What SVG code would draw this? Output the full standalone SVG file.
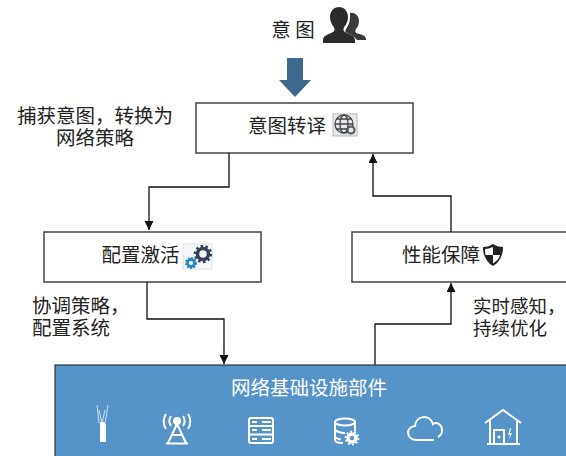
<svg xmlns="http://www.w3.org/2000/svg" width="566" height="456" viewBox="0 0 566 456">
<style>
text{font-family:"Noto Sans CJK SC","Liberation Sans",sans-serif;font-size:19.500px;font-weight:400;fill:#222;text-anchor:middle}
.l{text-anchor:start}
.box{fill:#fff;stroke:#444;stroke-width:1.500}
.c{fill:none;stroke:#111;stroke-width:1.300;marker-end:url(#a)}
.i{fill:none;stroke:#fff;stroke-width:2}
.f{fill:#fff}
</style>
<defs><marker id="a" markerUnits="userSpaceOnUse" markerWidth="10" markerHeight="11" refX="9" refY="4.500" orient="auto"><path d="M0 0L9 4.500L0 9Z" fill="#111"/></marker></defs>
<rect width="566" height="456" fill="#fff"/>
<g id="intent">
<text x="293" y="37">意 图</text>
<path d="M323 40c0-5 7-6 10-8 2-1 2-4 0-6-2-3-3-6-3-9 0-6 4-10 9-10s9 4 9 10c0 3-1 6-3 9-2 2-2 5 0 6 3 2 10 3 10 8v3h-32z" fill="#2b2b2b"/>
<path d="M350 13c5-1 9 3 9 8 0 3-1 6-3 8-1 1-1 3 0 4 3 1 10 2 10 6v1h-9c-2-3-7-6-10-7-2-1-2-2-1-4 2-3 4-7 4-11 0-2 0-4 0-5z" fill="#3a3a3a"/>
<path d="M287 58h16v22h8l-16 17-16-17h8z" fill="#3f688f"/>
</g>
<g id="capture-note"><text y="123"><tspan x="95">捕获意图，转换为</tspan><tspan x="95" y="145">网络策略</tspan></text></g>
<g id="translate">
<rect class="box" x="196" y="103" width="217" height="50"/>
<text x="287" y="133">意图转译</text>
<rect x="333" y="114" width="24" height="22" fill="#e4e8ec" stroke="#aaa" stroke-width=".8"/>
<g fill="none" stroke="#444" stroke-width="1.300"><circle cx="344" cy="124" r="9"/><ellipse cx="344" cy="124" rx="4" ry="9"/><path d="M335 124h18M336 119h16M336 129h16"/></g>
<circle cx="351" cy="130" r="3.500" fill="#e4e8ec" stroke="#555" stroke-width="2"/>
</g>
<g id="activate">
<rect class="box" x="44" y="232" width="217" height="50"/>
<text x="140.500" y="262">配置激活</text>
<rect x="183" y="244" width="29" height="25" fill="#f7f8f9" stroke="#ccc" stroke-width=".6"/>
<circle cx="203" cy="254" r="5.500" fill="none" stroke="#33415a" stroke-width="3.500"/>
<circle cx="203" cy="254" r="8" fill="none" stroke="#33415a" stroke-width="2.500" stroke-dasharray="2.500 2.500"/>
<circle cx="191" cy="263" r="3.500" fill="none" stroke="#2a86c0" stroke-width="2.800"/>
<circle cx="191" cy="263" r="5.300" fill="none" stroke="#2a86c0" stroke-width="1.500" stroke-dasharray="2 1.500"/>
</g>
<g id="performance">
<rect class="box" x="352" y="232" width="216" height="50"/>
<text x="441" y="262">性能保障</text>
<path d="M493 244c3 2 6 3 10 3 0 8-3 15-10 19-7-4-10-11-10-19 4 0 7-1 10-3z" fill="#222"/>
<path d="M493 247v8h7c-.5 3-3 6-7 8.500zM493 255h-7.500c-.3-1.500-.4-3-.4-6 3-.3 5.500-1 7.900-2z" fill="#fff"/>
</g>
<g id="coord-note"><text class="l" y="313"><tspan x="32">协调策略，</tspan><tspan x="32" y="335">配置系统</tspan></text></g>
<g id="sense-note"><text class="l" y="313" style="font-size:18.500px"><tspan x="473">实时感知，</tspan><tspan x="473" y="335">持续优化</tspan></text></g>
<g id="connectors">
<path class="c" d="M229 153V187H149V230"/>
<path class="c" d="M147 282V319H224V364"/>
<path class="c" d="M375 365V324H451V283"/>
<path class="c" d="M451 232V196H373V154"/>
</g>
<g id="infrastructure">
<rect x="55" y="365" width="513" height="93" fill="#5594c9" stroke="#333" stroke-width="1.200"/>
<text x="309" y="395" style="fill:#fff">网络基础设施部件</text>
<g><path class="f" d="M100 422h4l2 2v18h-6z"/><path d="M99 423L97 405M105 423L108 405M102 423L99 410M102 423L105 410" stroke="#cfe0ef" stroke-width="1" fill="none"/></g>
<g><circle class="f" cx="177" cy="421" r="4"/><path class="i" d="M177 424L168 443M177 424L186 443M166 443.500H188M172 435H182M171 416c-2 3-2 7 0 10M166 414c-3 4-3 11 0 15M183 416c2 3 2 7 0 10M188 414c3 4 3 11 0 15"/></g>
<g><rect class="i" stroke-width="1.600" x="249" y="418" width="24" height="25" rx="2"/><path class="i" stroke-width="1.600" d="M249 426H273M249 434.500H273M262 422H271M262 430H271M262 439H271M252 422H257M252 430H257M252 439H257"/></g>
<g><ellipse class="i" stroke-width="1.500" cx="345" cy="422" rx="10" ry="3.500"/><path class="i" stroke-width="1.500" d="M335 422V440c0 2 4 3 8 3M355 422V431M335 429c0 2 5 4 10 4M335 436c0 2 3 3 6 3.500"/><circle cx="352" cy="438" r="4" fill="none" stroke="#fff" stroke-width="3.500"/><circle cx="352" cy="438" r="6.500" fill="none" stroke="#fff" stroke-width="1.800" stroke-dasharray="2 2"/></g>
<path class="i" stroke-width="1.600" d="M434 440H417c-11 0-12-13-2-14 1-11 15-12 18-2 4-3 9 1 9 6 0 4-2 6-4 7"/>
<g><path class="i" stroke-width="2.500" d="M485 423L503 410L521 423"/><path class="i" stroke-width="2.500" d="M490 420V444M517 420V444M487 444H520"/><path class="i" d="M494 444V430H504V444"/><circle class="f" cx="499" cy="437" r="1.500"/><path class="f" d="M510 428l-2 7h2l-1 5 3-7h-2l1-5z"/></g>
</g>
</svg>
